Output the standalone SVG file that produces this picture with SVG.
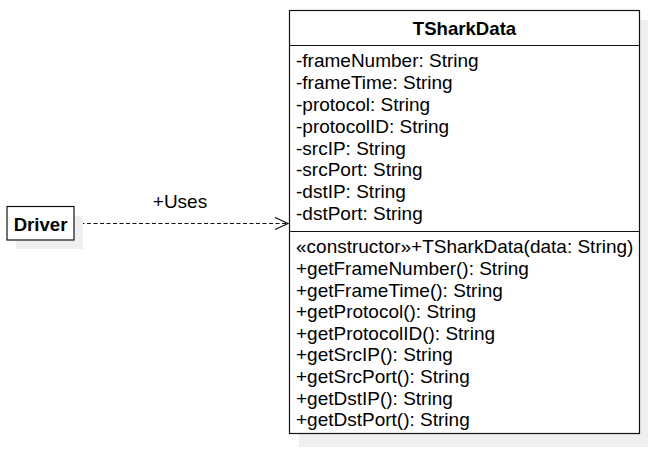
<svg xmlns="http://www.w3.org/2000/svg" width="648" height="450" viewBox="0 0 648 450">
<style>
text{font-family:"Liberation Sans",Arial,Helvetica,sans-serif;font-size:19px;fill:#000}
.b{font-weight:bold;font-size:18.6px}
.box{fill:#fff;stroke:#111;stroke-width:1.2}
.sh{fill:#efefef}
.ln{stroke:#111;stroke-width:1.2;fill:none}
</style>
<defs>
<marker id="open" markerWidth="16" markerHeight="14" refX="14" refY="7" orient="auto" markerUnits="userSpaceOnUse">
<path d="M1,1 L14,7 L1,13" fill="none" stroke="#111" stroke-width="1.2"/>
</marker>
</defs>
<rect width="648" height="450" fill="#fff"/>
<g id="connectors">
<line class="ln" x1="74" y1="223.5" x2="288" y2="223.5" stroke-dasharray="4 2.5" marker-end="url(#open)"/>
<text x="180" y="208" text-anchor="middle" font-size="18.5">+Uses</text>
</g>
<g id="Driver">
<rect class="sh" x="16" y="216" width="67" height="33"/>
<rect class="box" x="7" y="206.5" width="67" height="33.5"/>
<text class="b" x="40.5" y="231" text-anchor="middle">Driver</text>
</g>
<g id="TSharkData">
<rect class="sh" x="299" y="20" width="349" height="427"/>
<rect class="box" x="289.5" y="10.5" width="350" height="423"/>
<line class="ln" x1="289.5" y1="45.5" x2="639.5" y2="45.5"/>
<line class="ln" x1="289.5" y1="231.5" x2="639.5" y2="231.5"/>
<text class="b" x="464.5" y="35" text-anchor="middle">TSharkData</text>
<text x="296" y="67.3">-frameNumber: String</text>
<text x="296" y="89.1">-frameTime: String</text>
<text x="296" y="110.9">-protocol: String</text>
<text x="296" y="132.7">-protocolID: String</text>
<text x="296" y="154.5">-srcIP: String</text>
<text x="296" y="176.3">-srcPort: String</text>
<text x="296" y="198.1">-dstIP: String</text>
<text x="296" y="220">-dstPort: String</text>
<text x="296" y="253.3">«constructor»+TSharkData(data: String)</text>
<text x="296" y="274.9">+getFrameNumber(): String</text>
<text x="296" y="296.5">+getFrameTime(): String</text>
<text x="296" y="318.1">+getProtocol(): String</text>
<text x="296" y="339.7">+getProtocolID(): String</text>
<text x="296" y="361.3">+getSrcIP(): String</text>
<text x="296" y="382.9">+getSrcPort(): String</text>
<text x="296" y="404.5">+getDstIP(): String</text>
<text x="296" y="426">+getDstPort(): String</text>
</g>
</svg>
